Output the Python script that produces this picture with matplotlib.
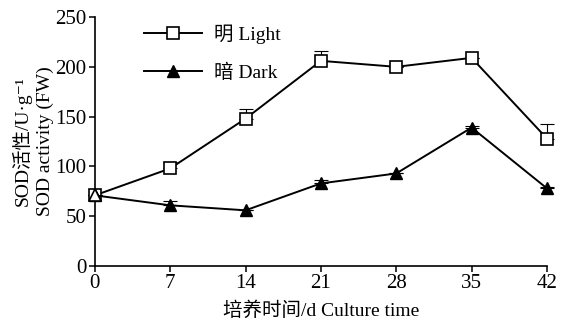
import matplotlib.pyplot as plt
import numpy as np

plt.rcParams['font.family'] = ['Liberation Serif', 'Noto Sans CJK SC', 'DejaVu Serif']

days = [0, 7, 14, 21, 28, 35, 42]
light = [71, 98, 148, 206, 200, 209, 128]
light_err = [0, 6, 10, 10, 0, 0, 15]
dark = [71, 61, 56, 83, 93, 139, 78]
dark_err = [0, 4, 0, 3, 0, 2, 1]

fig = plt.figure(figsize=(5.61, 3.21), dpi=100)
ax = fig.add_axes([0.169, 0.171, 0.806, 0.776])

zeros = np.zeros(len(days))
for vals, errs in [(light, light_err), (dark, dark_err)]:
    ax.errorbar(days, vals, yerr=[zeros, errs], fmt='none', ecolor='black',
                elinewidth=0.8, capsize=5, capthick=0.8, clip_on=False)
ax.plot(days, light, color='black', lw=1.4, marker='s', ms=8,
        mfc='white', mec='black', mew=1.2, label='明 Light', clip_on=False)
ax.plot(days, dark, color='black', lw=1.4, marker='^', ms=8.5,
        mfc='black', mec='black', mew=1.0, label='暗 Dark', clip_on=False)
ax.plot(days[0], dark[0], marker='^', ms=8.5, mfc='white', mec='black', mew=1.2,
        ls='none', zorder=5, clip_on=False)

ax.set_xlim(0, 42)
ax.set_ylim(0, 250)
ax.set_xticks(days)
ax.set_yticks(range(0, 251, 50))
ax.spines['top'].set_visible(False)
ax.spines['right'].set_visible(False)
ax.spines['left'].set_linewidth(1.2)
ax.spines['bottom'].set_linewidth(1.2)
ax.tick_params(direction='out', length=4, width=1.1, labelsize=15, pad=2)

ax.set_xlabel('培养时间/d Culture time', fontsize=14, labelpad=6)
ax.set_ylabel('SOD活性/U·g⁻¹\nSOD activity (FW)', fontsize=14,
              linespacing=1.35, labelpad=1)

leg = ax.legend(loc='upper left', bbox_to_anchor=(0.07, 1.04), frameon=False,
                fontsize=14, handlelength=3.0, labelspacing=1.0,
                handletextpad=0.6)
for line in leg.get_lines():
    line.set_linewidth(1.4)

fig.savefig('out.png', dpi=100)
